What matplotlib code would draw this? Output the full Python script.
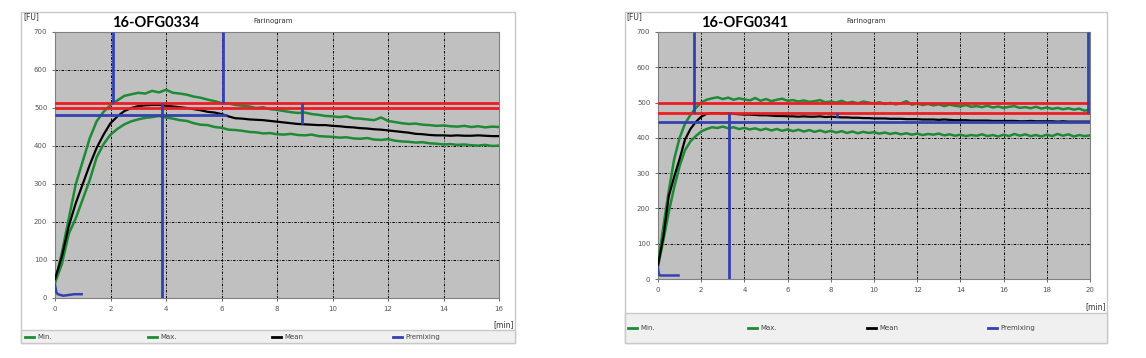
import numpy as np
import matplotlib
matplotlib.use("Agg")
import matplotlib.pyplot as plt
from matplotlib.patches import Rectangle

W, H = 1146, 358

# ---- left chart: 16-OFG0334 (0..16 min, step 0.25) ----
left_t = [i * 0.25 for i in range(65)]
left_max = [40, 120, 210, 300, 360, 420, 465, 490, 508, 520, 532, 536, 540, 538, 545, 541,
            548, 540, 538, 535, 530, 527, 522, 518, 513, 512, 508, 506, 504, 500, 502, 497,
            495, 492, 489, 487, 488, 484, 482, 479, 478, 476, 478, 473, 472, 470, 468, 475,
            466, 463, 460, 458, 459, 456, 455, 453, 454, 452, 451, 453, 450, 452, 449, 451, 450]
left_min = [40, 90, 170, 210, 260, 310, 370, 405, 430, 445, 457, 465, 470, 474, 476, 479,
            475, 472, 468, 466, 460, 456, 455, 450, 448, 443, 442, 440, 437, 436, 433, 434,
            431, 430, 432, 429, 428, 430, 426, 425, 424, 422, 423, 420, 419, 421, 417, 416,
            418, 414, 412, 411, 409, 410, 407, 406, 404, 405, 403, 404, 402, 401, 403, 400, 401]
left_mean = [50, 110, 190, 250, 300, 350, 395, 430, 460, 478, 492, 500, 505, 507, 508, 508,
             506, 504, 502, 500, 497, 494, 490, 488, 484, 478, 473, 472, 470, 469, 468, 466,
             464, 462, 460, 458, 457, 456, 455, 455, 453, 452, 450, 449, 447, 446, 444, 443,
             441, 439, 437, 435, 432, 431, 429, 428, 428, 427, 428, 427, 427, 428, 427, 426, 426]
left_pre_t = [0, 0.05, 0.1, 0.3, 0.5, 0.7, 0.96]
left_pre = [35, 15, 10, 6, 8, 10, 10]
left_red = [500, 512]
left_hline = (481, 0, 6.2)                 # value, from, to
left_vlines = [(2.1, 512, 700), (6.05, 512, 700), (3.85, 0, 512), (8.9, 458, 512)]

# ---- right chart: 16-OFG0341 (0..20 min, step 0.25) ----
right_t = [i * 0.25 for i in range(81)]
right_max = [40, 150, 250, 340, 400, 440, 465, 485, 500, 508, 512, 515, 510, 514, 508, 512,
             509, 506, 513, 505, 510, 504, 508, 511, 505, 507, 503, 506, 502, 504, 507, 501,
             503, 500, 505, 499, 502, 498, 503, 500, 497, 501, 496, 499, 495, 498, 504, 494,
             497, 493, 496, 492, 495, 490, 494, 491, 489, 493, 488, 490, 487, 491, 486, 489,
             485, 488, 490, 485, 487, 484, 488, 483, 486, 482, 485, 481, 484, 480, 483, 477, 480]
right_min = [35, 110, 190, 260, 320, 365, 390, 405, 418, 425, 430, 428, 432, 427, 430, 425,
             428, 424, 427, 422, 426, 421, 425, 420, 424, 419, 423, 418, 422, 417, 421, 416,
             420, 415, 419, 414, 418, 413, 417, 414, 416, 412, 415, 411, 414, 410, 413, 409,
             412, 408, 411, 409, 412, 407, 410, 406, 409, 405, 408, 406, 410, 405, 408, 404,
             409, 405, 411, 406, 410, 405, 408, 404, 409, 405, 411, 406, 410, 404, 408, 405, 407]
right_mean = [40, 120, 235, 290, 340, 395, 425, 445, 460, 468, 470, 470, 469, 470, 468, 467,
              466, 466, 465, 464, 464, 463, 462, 462, 461, 461, 460, 461, 460, 460, 461, 459,
              460, 459, 458, 458, 457, 457, 456, 456, 455, 455, 455, 454, 454, 454, 453, 453,
              453, 452, 452, 452, 451, 452, 451, 450, 450, 450, 449, 449, 449, 449, 448, 448,
              448, 448, 448, 447, 447, 448, 447, 447, 447, 447, 446, 447, 446, 446, 446, 446, 446]
right_pre_t = [0, 0.05, 0.1, 0.3, 0.5, 0.7, 0.95]
right_pre = [30, 12, 10, 10, 10, 10, 10]
right_red = [470, 500]
right_hline = (445, 0, 20)
right_vlines = [(1.68, 470, 700), (19.9, 470, 700), (3.3, 0, 470), (8.3, 458, 470)]

GREEN = "#1f8a35"
BLUE = "#3342b0"
RED = "#ee1c24"
PLOT_BG = "#c0c0c0"
LEG_BG = "#f0f0f0"

fig = plt.figure(figsize=(W / 100, H / 100), dpi=100)
fig.patch.set_facecolor("white")


def px_axes(x0, y0, x1, y1, **kw):
    return fig.add_axes([x0 / W, (H - y1) / H, (x1 - x0) / W, (y1 - y0) / H], **kw)


def panel(frame, plot, leg_top, xmax, t, vmax, vmin, vmean, pre_t, pre, reds, hline, vlines,
          title, title_x, farino_x, fu_xy, min_xy, leg_x, leg_y):
    # outer frame and legend bar, behind the axes
    fig.patches.append(Rectangle((frame[0] / W, (H - frame[3]) / H),
                                 (frame[2] - frame[0]) / W, (frame[3] - frame[1]) / H,
                                 transform=fig.transFigure, facecolor="white",
                                 edgecolor="#c8c8c8", lw=1, zorder=-10))
    fig.patches.append(Rectangle((frame[0] / W, (H - frame[3]) / H),
                                 (frame[2] - frame[0]) / W, (frame[3] - leg_top) / H,
                                 transform=fig.transFigure, facecolor=LEG_BG,
                                 edgecolor="#c8c8c8", lw=1, zorder=-9))
    ax = px_axes(*plot)
    ax.set_facecolor(PLOT_BG)
    ax.set_xlim(0, xmax)
    ax.set_ylim(0, 700)
    ax.set_xticks(np.arange(0, xmax + 1, 2))
    ax.set_yticks(np.arange(0, 701, 100))
    ax.grid(True, color="black", lw=0.7, linestyle=(0, (2.5, 1.5, 0.8, 1.5)))
    ax.set_axisbelow(True)
    ax.tick_params(labelsize=5, colors="#555555", length=2, width=0.6)
    for s in ax.spines.values():
        s.set_color("#808080")
        s.set_linewidth(0.8)
    ax.plot(t, vmax, color=GREEN, lw=1.8, zorder=3)
    ax.plot(t, vmin, color=GREEN, lw=1.8, zorder=3)
    ax.plot(t, vmean, color="black", lw=1.6, zorder=4)
    ax.plot(pre_t, pre, color=BLUE, lw=1.8, zorder=4)
    for r in reds:
        ax.axhline(r, color=RED, lw=2, zorder=5)
    ax.hlines(hline[0], hline[1], hline[2], color=BLUE, lw=2, zorder=6)
    for x, y0, y1 in vlines:
        ax.vlines(x, y0, y1, color=BLUE, lw=2, zorder=6)

    fig.text(title_x / W, 1 - 23 / H, title, fontsize=10.5, fontweight="bold",
             family="Lato", va="center", ha="left")
    fig.text(farino_x / W, 1 - 21 / H, "Farinogram", fontsize=5, color="#333333",
             va="center", ha="left")
    fig.text(fu_xy[0] / W, 1 - fu_xy[1] / H, "[FU]", fontsize=5.5, color="#333333",
             va="center", ha="left")
    fig.text(min_xy[0] / W, 1 - min_xy[1] / H, "[min]", fontsize=5.5, color="#333333",
             va="center", ha="right")
    labels = ["Min.", "Max.", "Mean", "Premixing"]
    colors = [GREEN, GREEN, "black", BLUE]
    for lx, lab, c in zip(leg_x, labels, colors):
        fig.lines.append(plt.Line2D([lx / W, (lx + 9) / W], [1 - leg_y / H] * 2,
                                    transform=fig.transFigure, color=c, lw=2))
        fig.text((lx + 12) / W, 1 - leg_y / H, lab, fontsize=5, color="#444444",
                 va="center", ha="left")


panel((21, 12, 515, 343), (55, 32, 499, 298), 330, 16,
      left_t, left_max, left_min, left_mean, left_pre_t, left_pre,
      left_red, left_hline, left_vlines,
      "16-OFG0334", 112, 253, (23, 17), (514, 325),
      [25, 148, 272, 393], 337)

panel((625, 12, 1107, 343), (658, 32, 1090, 279), 313, 20,
      right_t, right_max, right_min, right_mean, right_pre_t, right_pre,
      right_red, right_hline, right_vlines,
      "16-OFG0341", 701, 846, (626, 17), (1106, 307),
      [628, 748, 867, 988], 328)

fig.savefig("out.png", dpi=100)
